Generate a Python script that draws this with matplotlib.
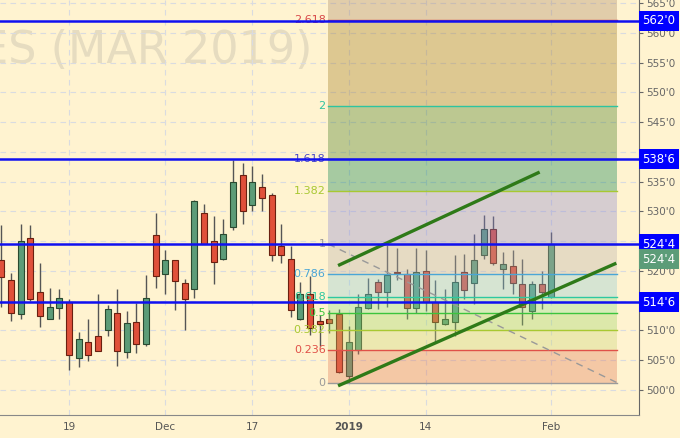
import numpy as np
import matplotlib
matplotlib.use('Agg')
import matplotlib.pyplot as plt
import matplotlib.transforms as mtransforms

# daily candles, bar index 0 = 19 Nov
bar_idx = np.arange(-7, 51)
opens = [521.8, 518.4, 512.7, 525.5, 516.5, 512.0, 513.8, 514.7, 505.4, 508.0,
         509.0, 510.0, 513.0, 506.4, 511.5, 507.7, 526.0, 519.5, 521.8, 518.0,
         517.0, 529.8, 525.0, 522.0, 527.3, 536.1, 531.1, 534.1, 532.8, 524.1,
         522.0, 511.9, 516.1, 511.6, 511.9, 512.7, 502.4, 506.8, 513.7, 518.1,
         516.5, 519.8, 519.5, 513.7, 520.0, 514.7, 511.0, 511.5, 519.8, 518.0,
         522.6, 527.0, 520.4, 520.8, 517.8, 513.2, 517.8, 515.7]
highs = [527.7, 519.6, 527.8, 527.7, 521.3, 517.2, 516.9, 515.3, 509.7, 512.0,
         516.1, 514.3, 516.9, 513.3, 514.6, 519.3, 529.7, 523.5, 521.9, 518.6,
         531.9, 531.2, 529.2, 528.8, 538.6, 538.1, 537.7, 536.2, 533.1, 527.8,
         524.1, 518.1, 519.1, 512.6, 513.4, 513.6, 510.8, 516.1, 518.8, 518.7,
         524.4, 523.8, 520.3, 523.8, 523.5, 518.5, 516.9, 522.7, 522.8, 526.2,
         529.4, 529.3, 523.1, 523.5, 522.0, 518.3, 520.0, 526.5]
lows = [514.0, 511.6, 511.9, 515.0, 510.6, 511.9, 511.9, 503.4, 503.9, 504.8,
        506.5, 509.1, 504.0, 505.4, 506.2, 507.4, 517.1, 516.1, 513.5, 510.1,
        515.4, 524.5, 517.8, 521.9, 526.9, 527.9, 530.1, 530.1, 521.7, 521.3,
        512.3, 511.8, 509.2, 507.4, 509.6, 502.9, 501.25, 506.1, 513.6, 513.6,
        513.9, 518.5, 512.0, 513.0, 513.3, 508.1, 510.9, 509.0, 515.3, 514.4,
        522.0, 521.0, 516.9, 516.2, 510.9, 511.9, 513.6, 515.5]
closes = [518.9, 513.0, 525.0, 515.3, 512.5, 513.9, 515.4, 505.8, 508.5, 505.8,
          506.5, 513.6, 506.5, 511.2, 507.7, 515.5, 519.2, 521.8, 518.3, 515.2,
          531.8, 524.6, 521.5, 526.2, 535.0, 530.0, 535.0, 532.3, 522.7, 522.6,
          513.5, 516.1, 510.4, 511.0, 511.2, 503.0, 508.1, 513.9, 516.1, 516.5,
          519.3, 519.6, 513.7, 519.8, 514.8, 511.5, 512.0, 518.1, 516.8, 521.8,
          527.0, 521.3, 521.1, 518.0, 513.9, 517.8, 516.5, 524.5]

tick_pos = [0, 10, 19, 29, 37, 50]
tick_lbl = ['19', 'Dec', '17', '2019', '14', 'Feb']

# fibonacci grid
fib_low, fib_high = 501.25, 524.5
fib_x = [26.9, 56.8]
fib_levels = [0, 0.236, 0.382, 0.5, 0.618, 0.786, 1, 1.382, 1.618, 2, 2.618]
fib_names = ['0', '0.236', '0.382', '0.5', '0.618', '0.786', '1', '1.382', '1.618', '2', '2.618']
fib_line_col = ['#9a9a9a', '#e05048', '#a8c832', '#3cc43c', '#2ec8a0', '#4aa6d6',
                '#9a9a9a', '#a8c832', '#4848c8', '#2ec4a0', '#d84848']
fib_fill_col = ['#e07855', '#c9d675', '#9bd663', '#8ddf8e', '#8ac8d6', '#b8b1ab',
                '#8a86d0', '#007e4c', '#40781c', '#a0781c', '#a98663']

# horizontal levels (blue)
levels = [562.0, 538.75, 524.5, 514.75]
level_lbl = ["562'0", "538'6", "524'4", "514'6"]

# channel
upper_ch = ([27.9, 48.8], [520.9, 536.6])
lower_ch = ([27.9, 56.75], [500.7, 521.3])

bg = '#fff3d0'
fig = plt.figure(figsize=(6.8, 4.38), dpi=100, facecolor=bg)
ax = fig.add_axes([0, 23 / 438, 639 / 680, 415 / 438], facecolor=bg)
ax.set_xlim(-7.15, 59.1)
ax.set_ylim(495.8, 565.5)

# watermark
ax.text(312 / 639, 0.878, 'FUTURES (MAR 2019)', transform=ax.transAxes, ha='right',
        va='center', fontsize=32, color='#e6dcc0', zorder=0.5, clip_on=True)

# grid
for y in range(500, 566, 5):
    ax.axhline(y, color='#d9dbe0', lw=0.8, ls=(0, (5, 4)), zorder=0.6)
for x in tick_pos:
    ax.axvline(x, color='#d9dbe0', lw=0.8, ls=(0, (5, 4)), zorder=0.6)

# candles
for i, o, h, l, c in zip(bar_idx, opens, highs, lows, closes):
    up = c >= o
    ax.vlines(i, l, h, color='#555555', lw=1.0, zorder=2)
    ax.bar(i, max(abs(c - o), 0.25), bottom=min(o, c), width=0.62,
           color='#5c9c78' if up else '#e0503a', edgecolor='#2a4a30' if up else '#6a2010',
           lw=0.8, zorder=2.5)

# fib zones
rng = fib_high - fib_low
prices = [fib_low + f * rng for f in fib_levels]
tops = prices[1:] + [565.5]
for k in range(len(prices)):
    ax.fill_between(fib_x, prices[k], tops[k], color=fib_fill_col[k], alpha=0.35, lw=0, zorder=3)
    ax.plot(fib_x, [prices[k]] * 2, color=fib_line_col[k], lw=1.0, zorder=3.5)
    ax.text(fib_x[0] - 0.3, prices[k], fib_names[k], ha='right', va='center',
            fontsize=8, color=fib_line_col[k], zorder=3.6)
ax.plot(fib_x, [fib_high, fib_low], color='#999999', lw=1.0, ls=(0, (5, 4)), zorder=3.7)

# channel lines
ax.plot(*upper_ch, color='#2e7a18', lw=2.4, solid_capstyle='butt', zorder=4)
ax.plot(*lower_ch, color='#2e7a18', lw=2.4, solid_capstyle='butt', zorder=4)

# blue levels with tags
trans = mtransforms.blended_transform_factory(ax.transAxes, ax.transData)
for p, s in zip(levels, level_lbl):
    ax.axhline(p, color='#1010f0', lw=1.8, zorder=5)
    ax.text(1.005, p, s, transform=trans, ha='left', va='center', fontsize=8.5,
            color='white', clip_on=False, zorder=6,
            bbox=dict(boxstyle='square,pad=0.3', fc='#0000ff', ec='none'))
ax.text(1.005, 522.0, "524'4", transform=trans, ha='left', va='center', fontsize=8.5,
        color='white', clip_on=False, zorder=6,
        bbox=dict(boxstyle='square,pad=0.3', fc='#5c9c78', ec='none'))

# axes
for s in ['top', 'left']:
    ax.spines[s].set_visible(False)
ax.spines['right'].set_color('#666666')
ax.spines['bottom'].set_color('#888888')
ax.yaxis.tick_right()
yt = list(range(500, 566, 5))
ax.set_yticks(yt)
# labels hidden behind the price tags
ax.set_yticklabels(['' if v in (515, 525, 540) else f"{v}'0" for v in yt])
ax.tick_params(axis='y', colors='#666666', labelsize=7.5, length=3, pad=2)
ax.set_xticks(tick_pos)
ax.set_xticklabels(tick_lbl)
ax.tick_params(axis='x', colors='#666666', labelsize=7.5, length=0, pad=5)
for t in ax.get_xticklabels():
    t.set_color('#555555')
ax.get_xticklabels()[3].set_fontweight('bold')

fig.savefig('out.png', dpi=100, facecolor=bg)
